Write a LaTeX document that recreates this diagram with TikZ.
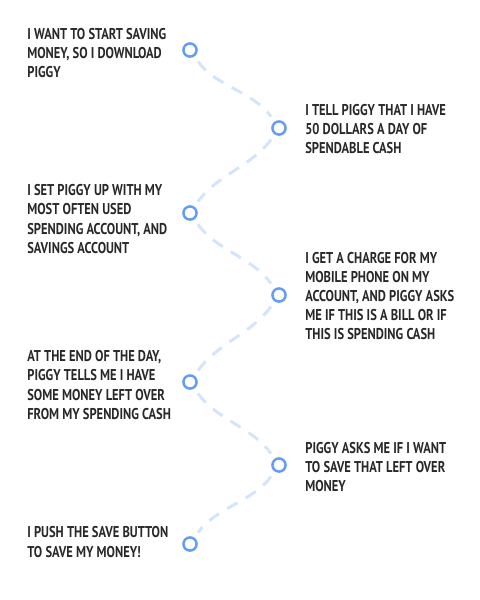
\documentclass[tikz,border=0pt]{standalone}
\usepackage{fontspec}
\newfontfamily\handfont[FakeStretch=0.8]{PT Sans}
\usepackage{tikz}
\usetikzlibrary{positioning}
\definecolor{dotblue}{RGB}{98,156,246}
\definecolor{pathblue}{RGB}{212,228,251}
\definecolor{inkgray}{RGB}{40,40,40}
\tikzset{
stepdot/.style={
	circle,
	draw=dotblue,
	fill=white,
	line width=1.4pt,
	minimum size=7.5pt,
	inner sep=0pt
},
steptext/.style={
	anchor=west,
	align=left,
	inner sep=0pt,
	text=inkgray,
	font=\handfont\bfseries\fontsize{8.9}{10.9}\selectfont
},
trail/.style={
	draw=pathblue,
	line width=1.7pt,
	dash pattern=on 6.8pt off 5.4pt,
	shorten <=3.5pt,
	shorten >=3.5pt,
	looseness=0.9
}
}

\begin{document}
\begin{tikzpicture}[x=0.02cm, y=0.02cm]
\useasboundingbox (0,0) rectangle (480,-600);
% ===== Timeline dots =====
\node (d1) [stepdot] at (190,-50)  {};
\node (d2) [stepdot] at (279,-128) {};
\node (d3) [stepdot] at (190,-213) {};
\node (d4) [stepdot] at (279,-295) {};
\node (d5) [stepdot] at (190,-382) {};
\node (d6) [stepdot] at (279,-465) {};
\node (d7) [stepdot] at (190,-544) {};
% ===== Step texts =====
\node (t1) [steptext] at (27,-53)   {I WANT TO START SAVING\\MONEY, SO I DOWNLOAD\\PIGGY};
\node (t2) [steptext] at (305,-129) {I TELL PIGGY THAT I HAVE\\50 DOLLARS A DAY OF\\SPENDABLE CASH};
\node (t3) [steptext] at (27,-219)  {I SET PIGGY UP WITH MY\\MOST OFTEN USED\\SPENDING ACCOUNT, AND\\SAVINGS ACCOUNT};
\node (t4) [steptext] at (305,-296) {I GET A CHARGE FOR MY\\MOBILE PHONE ON MY\\ACCOUNT, AND PIGGY ASKS\\ME IF THIS IS A BILL OR IF\\THIS IS SPENDING CASH};
\node (t5) [steptext] at (27,-385)  {AT THE END OF THE DAY,\\PIGGY TELLS ME I HAVE\\SOME MONEY LEFT OVER\\FROM MY SPENDING CASH};
\node (t6) [steptext] at (305,-467) {PIGGY ASKS ME IF I WANT\\TO SAVE THAT LEFT OVER\\MONEY};
\node (t7) [steptext] at (27,-542)  {I PUSH THE SAVE BUTTON\\TO SAVE MY MONEY!};
% ===== Dashed trail, zig-zag between dots =====
\foreach \a/\b in {d1/d2, d3/d4, d5/d6}
  \draw [trail] (\a) to[out=-55, in=125] (\b);
\foreach \a/\b in {d2/d3, d4/d5, d6/d7}
  \draw [trail] (\a) to[out=-125, in=55] (\b);
\end{tikzpicture}
\end{document}
